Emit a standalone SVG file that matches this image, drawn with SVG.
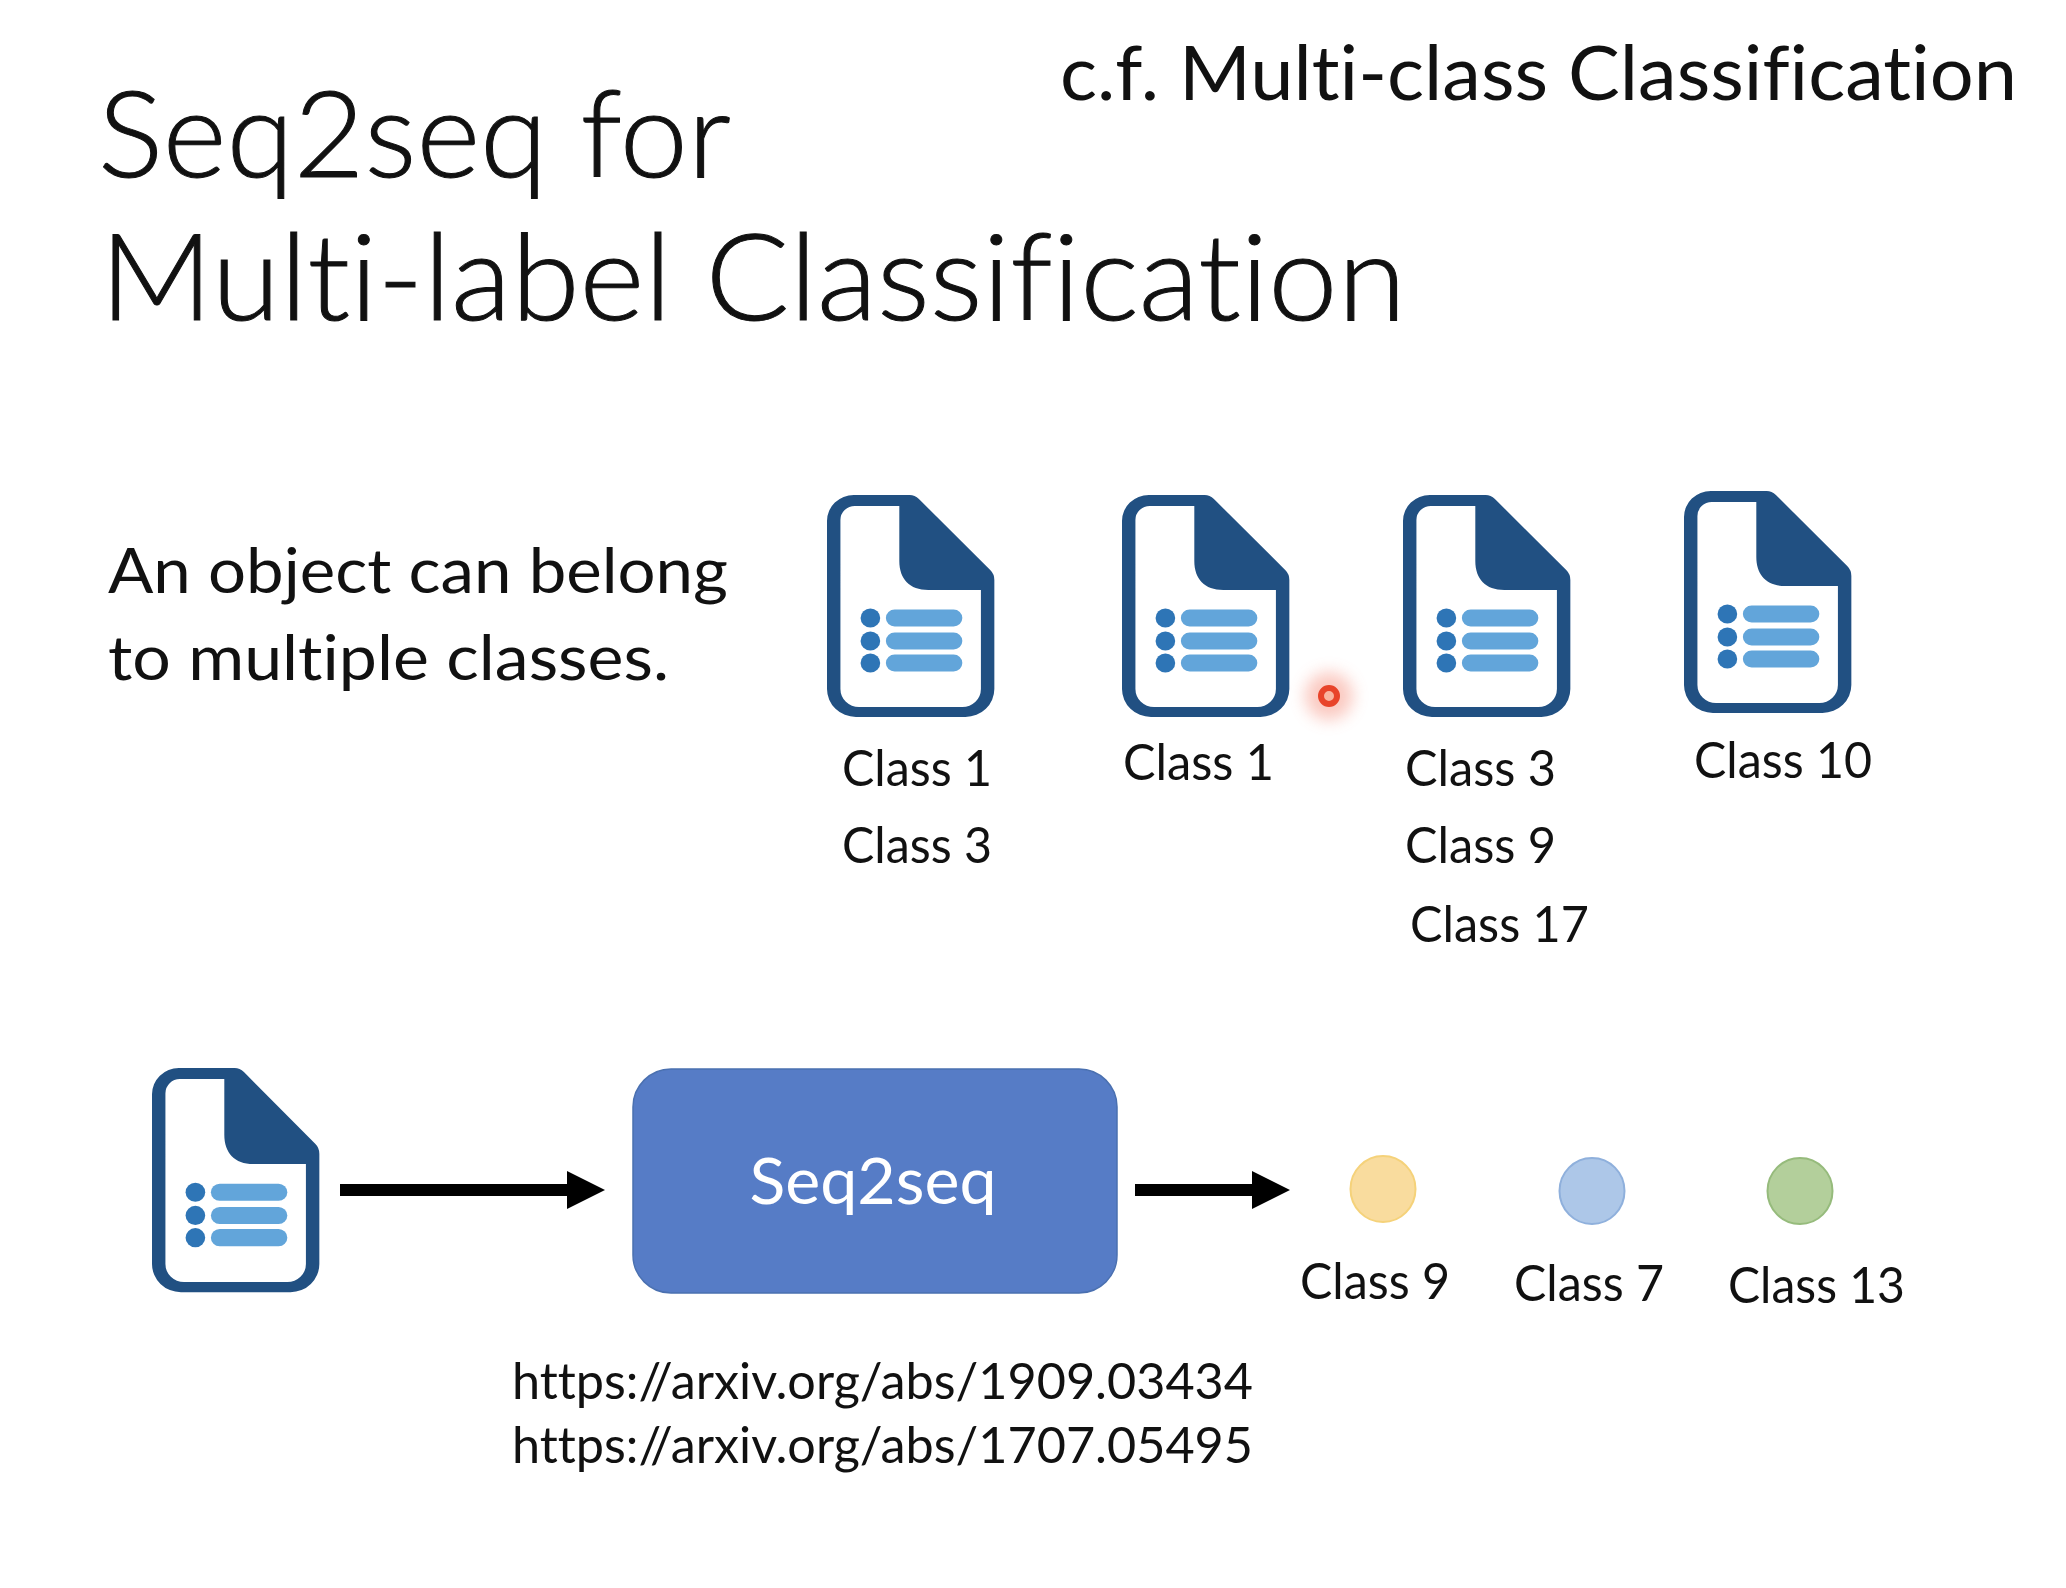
<svg xmlns="http://www.w3.org/2000/svg" width="2066" height="1588" viewBox="0 0 2066 1588">
<style>
text{font-family:Lato,"Open Sans",sans-serif;fill:#111;font-variant-ligatures:none}
.t{font-size:120px;font-weight:300;stroke:#111;stroke-width:1}
.h{font-size:75px}
.s{font-size:61px}
.u{font-size:50px}
.cls{font-size:50px}
</style>
<defs>
<filter id="gl" x="-60%" y="-60%" width="220%" height="220%"><feGaussianBlur stdDeviation="8"/></filter>
<g id="doc">
<path fill="#215082" d="M26 0H80Q85 0 89 4L158 75Q162 79 162 85V194A28 28 0 0 1 134 222H28A28 28 0 0 1 0 194V26A26 26 0 0 1 26 0Z"/>
<path fill="#fff" d="M27 11H70V66C70 84 80 95 98 95H149V194A18 18 0 0 1 131 212H31A18 18 0 0 1 13 194V25A14 14 0 0 1 27 11Z"/>
<g fill="#2e75b6"><circle cx="42" cy="123" r="9.500"/><circle cx="42" cy="146" r="9.500"/><circle cx="42" cy="168" r="9.500"/></g>
<g fill="#62a5da"><rect x="57" y="114.500" width="74" height="17" rx="8.500"/><rect x="57" y="137.500" width="74" height="17" rx="8.500"/><rect x="57" y="159.500" width="74" height="17" rx="8.500"/></g>
</g>
</defs>
<rect width="2066" height="1588" fill="#fff"/>
<text class="t" x="98" y="177" textLength="633" lengthAdjust="spacingAndGlyphs">Seq2seq for</text>
<text class="t" x="100" y="320" textLength="1306" lengthAdjust="spacingAndGlyphs">Multi-label Classification</text>
<text class="h" x="1060" y="100" textLength="957" lengthAdjust="spacingAndGlyphs">c.f. Multi-class Classification</text>
<text class="s" x="108" y="593" textLength="620" lengthAdjust="spacingAndGlyphs">An object can belong</text>
<text class="s" x="108" y="680" textLength="561" lengthAdjust="spacingAndGlyphs">to multiple classes.</text>
<g id="doc1"><use href="#doc" transform="translate(827 495) scale(1.033 1)"/><text class="cls" x="842" y="786" textLength="150" lengthAdjust="spacingAndGlyphs">Class 1</text><text class="cls" x="842" y="863" textLength="150" lengthAdjust="spacingAndGlyphs">Class 3</text></g>
<g id="doc2"><use href="#doc" transform="translate(1122 495) scale(1.033 1)"/><text class="cls" x="1123" y="780" textLength="151" lengthAdjust="spacingAndGlyphs">Class 1</text></g>
<g id="doc3"><use href="#doc" transform="translate(1403 495) scale(1.033 1)"/><text class="cls" x="1405" y="786" textLength="151" lengthAdjust="spacingAndGlyphs">Class 3</text><text class="cls" x="1405" y="863" textLength="151" lengthAdjust="spacingAndGlyphs">Class 9</text><text class="cls" x="1410" y="942" textLength="179" lengthAdjust="spacingAndGlyphs">Class 17</text></g>
<g id="doc4"><use href="#doc" transform="translate(1684 491) scale(1.033 1)"/><text class="cls" x="1694" y="778" textLength="178" lengthAdjust="spacingAndGlyphs">Class 10</text></g>
<g id="pointer"><circle cx="1329" cy="696" r="24" fill="#f47a65" opacity=".4" filter="url(#gl)"/><circle cx="1329" cy="696" r="8" fill="#f9b5a0" stroke="#e8442a" stroke-width="6"/></g>
<g id="input"><use href="#doc" transform="translate(152 1068) scale(1.033 1.01)"/></g>
<g id="seq2seq"><rect x="633" y="1069" width="484" height="224" rx="38" fill="#567cc6" stroke="#4a70b0" stroke-width="1.500"/><text x="873" y="1204" text-anchor="middle" style="font-size:63px;fill:#fff" textLength="247" lengthAdjust="spacingAndGlyphs">Seq2seq</text></g>
<g id="connectors" fill="#000"><path d="M340 1184H567V1171L605 1190L567 1209V1196H340Z"/><path d="M1135 1184H1252V1171L1290 1190L1252 1209V1196H1135Z"/></g>
<g id="class9"><ellipse cx="1383" cy="1189" rx="32.500" ry="33" fill="#f9dc9e" stroke="#f5d27a" stroke-width="2"/><text class="cls" x="1300" y="1299" textLength="150" lengthAdjust="spacingAndGlyphs">Class 9</text></g>
<g id="class7"><ellipse cx="1592" cy="1191" rx="32.500" ry="33" fill="#adc7e8" stroke="#8fb0dc" stroke-width="2"/><text class="cls" x="1514" y="1301" textLength="150" lengthAdjust="spacingAndGlyphs">Class 7</text></g>
<g id="class13"><ellipse cx="1800" cy="1191" rx="32.500" ry="33" fill="#b3cf9b" stroke="#96bb7c" stroke-width="2"/><text class="cls" x="1728" y="1303" textLength="177" lengthAdjust="spacingAndGlyphs">Class 13</text></g>
<g id="links"><text class="u" x="512" y="1399" textLength="741" lengthAdjust="spacingAndGlyphs">https://arxiv.org/abs/1909.03434</text><text class="u" x="512" y="1463" textLength="741" lengthAdjust="spacingAndGlyphs">https://arxiv.org/abs/1707.05495</text></g>
</svg>
